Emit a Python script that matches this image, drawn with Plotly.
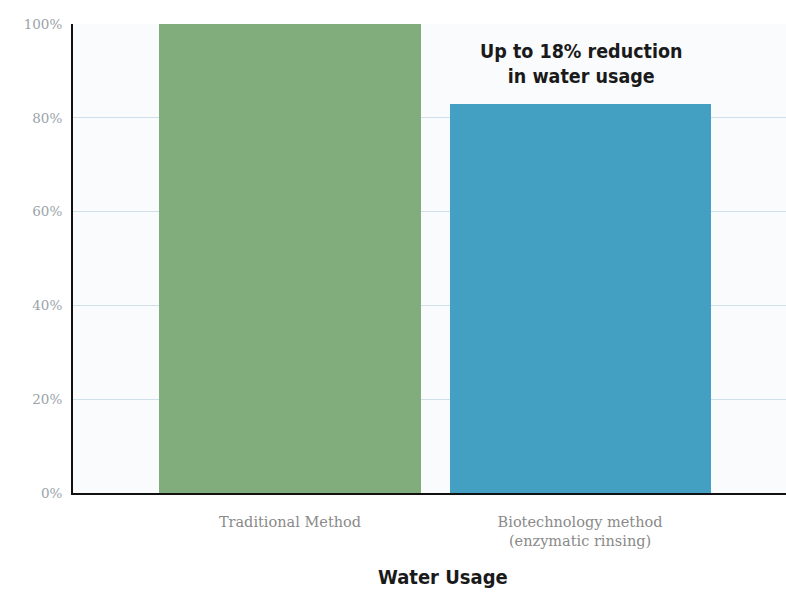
import plotly.graph_objects as go

categories = ["Traditional Method", "Biotechnology method<br>(enzymatic rinsing)"]
values = [100, 83]
colors = ["#80ad7b", "#43a0c3"]
tick_vals = [0, 20, 40, 60, 80, 100]
tick_text = ["0%", "20%", "40%", "60%", "80%", "100%"]
axis_title = "Water Usage"
callout = "Up to 18% reduction<br>in water usage"

COND = "DejaVu Sans Condensed, DejaVu Sans"

fig = go.Figure()
fig.add_trace(go.Bar(
    x=[0, 1], y=values, width=0.9,
    marker=dict(color=colors, line=dict(width=0)),
    hoverinfo="skip",
))

fig.add_annotation(
    x=1.005, y=91.5, xref="x", yref="y",
    text=callout,
    showarrow=False,
    font=dict(family=COND, size=19.5, color="#1a1a1a", weight="bold"),
    align="center",
)

fig.add_annotation(
    x=0.519, y=-0.179, xref="paper", yref="paper",
    text=axis_title, showarrow=False,
    xanchor="center", yanchor="middle",
    font=dict(family=COND, size=20, color="#1a1a1a", weight="bold"),
)

fig.update_layout(
    width=786, height=592,
    margin=dict(l=73, r=0, t=24, b=99),
    paper_bgcolor="#ffffff",
    plot_bgcolor="#f9fbfd",
    showlegend=False,
    bargap=0,
    xaxis=dict(
        range=[-0.748, 1.71],
        tickmode="array", tickvals=[0, 1], ticktext=categories,
        tickfont=dict(family="DejaVu Serif", size=14.5, color="#8a8a8a"),
        ticklabelstandoff=15,
        showline=True, linecolor="#111111", linewidth=2,
        showgrid=False, zeroline=False, ticks="",
        fixedrange=True,
    ),
    yaxis=dict(
        range=[0, 100],
        tickmode="array", tickvals=tick_vals, ticktext=tick_text,
        tickfont=dict(family="DejaVu Serif", size=13.5, color="#9aa3a8"),
        ticklabelstandoff=6,
        showline=True, linecolor="#111111", linewidth=2,
        showgrid=True, gridcolor="#cfe0ea", gridwidth=1,
        zeroline=False, ticks="",
        fixedrange=True,
    ),
)

fig.write_html("out.html")
